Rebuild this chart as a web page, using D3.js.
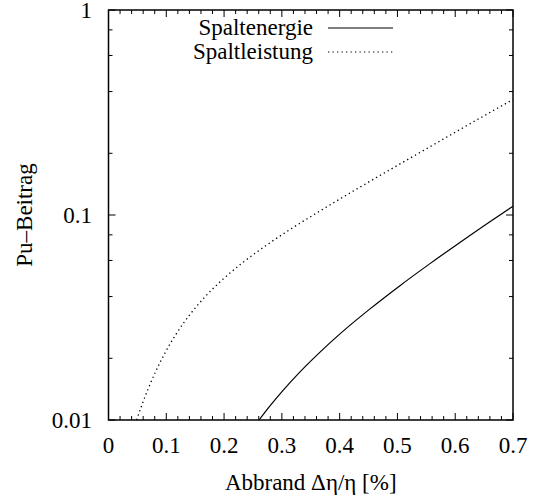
<!DOCTYPE html>
<html>
<head>
<meta charset="utf-8">
<script src="https://cdn.jsdelivr.net/npm/d3@7"></script>
<style>
  body { margin: 0; background: #fff; }
  text { font-family: "Liberation Serif", "Times New Roman", serif; fill: #000; }
</style>
</head>
<body>
<div id="chart"></div>
<script>
// values
var xTicks = [0, 0.1, 0.2, 0.3, 0.4, 0.5, 0.6, 0.7];
var yTicks = [0.01, 0.1, 1];
var yTickLabels = ["0.01", "0.1", "1"];

var energieX = [0.2606, 0.2791, 0.3021, 0.3310, 0.3656, 0.4001, 0.4520, 0.5038, 0.5557, 0.6075, 0.6594, 0.7000];
var energieY = [0.0100, 0.01168, 0.01395, 0.01712, 0.02138, 0.02623, 0.03473, 0.04508, 0.05775, 0.0733, 0.09254, 0.1104];

var leistungX = [0.0487, 0.0579, 0.0683, 0.0804, 0.0977, 0.1184, 0.1409, 0.1668, 0.1962, 0.2307, 0.2705, 0.3137, 0.3656, 0.4347, 0.5038, 0.5730, 0.6421, 0.7000];
var leistungY = [0.0100, 0.01187, 0.01413, 0.01694, 0.02122, 0.02662, 0.03268, 0.03983, 0.04808, 0.05813, 0.07033, 0.08481, 0.1045, 0.1365, 0.1770, 0.2291, 0.2961, 0.3660];

var seriesNames = ["Spaltenergie", "Spaltleistung"];

var W = 534, H = 502;
var mLeft = 108.5, mRight = 513, mTop = 10, mBottom = 420;

var svg = d3.select("#chart").append("svg")
  .attr("width", W)
  .attr("height", H);

var x = d3.scaleLinear().domain([0, 0.7]).range([mLeft, mRight]);
var y = d3.scaleLog().domain([0.01, 1]).range([mBottom, mTop]);

// minor ticks: 0.02 steps on x, 2,4,6,8 per decade on y
var xMinor = d3.range(0, 0.7001, 0.02).filter(function(v){ return Math.abs(v*10 - Math.round(v*10)) > 1e-6; });
var yMinor = [];
[0.01, 0.1].forEach(function(d){ [2,4,6,8].forEach(function(m){ yMinor.push(d*m); }); });

var tickG = svg.append("g").attr("stroke", "#000").attr("stroke-width", 1);
xTicks.forEach(function(v){
  tickG.append("line").attr("x1", x(v)).attr("x2", x(v)).attr("y1", mBottom).attr("y2", mBottom - 7);
  tickG.append("line").attr("x1", x(v)).attr("x2", x(v)).attr("y1", mTop).attr("y2", mTop + 7);
});
xMinor.forEach(function(v){
  tickG.append("line").attr("x1", x(v)).attr("x2", x(v)).attr("y1", mBottom).attr("y2", mBottom - 4);
  tickG.append("line").attr("x1", x(v)).attr("x2", x(v)).attr("y1", mTop).attr("y2", mTop + 4);
});
yTicks.forEach(function(v){
  tickG.append("line").attr("x1", mLeft).attr("x2", mLeft + 7).attr("y1", y(v)).attr("y2", y(v));
  tickG.append("line").attr("x1", mRight).attr("x2", mRight - 7).attr("y1", y(v)).attr("y2", y(v));
});
yMinor.forEach(function(v){
  tickG.append("line").attr("x1", mLeft).attr("x2", mLeft + 4).attr("y1", y(v)).attr("y2", y(v));
  tickG.append("line").attr("x1", mRight).attr("x2", mRight - 4).attr("y1", y(v)).attr("y2", y(v));
});

// frame
svg.append("rect")
  .attr("x", mLeft).attr("y", mTop)
  .attr("width", mRight - mLeft).attr("height", mBottom - mTop)
  .attr("fill", "none").attr("stroke", "#000").attr("stroke-width", 1.5);

// tick labels
svg.selectAll(".xl").data(xTicks).enter().append("text")
  .attr("class", "xl")
  .attr("x", function(d){ return x(d); })
  .attr("y", 453)
  .attr("text-anchor", "middle")
  .attr("font-size", 23)
  .text(function(d){ return d3.format("")(d); });

svg.selectAll(".yl").data(yTicks).enter().append("text")
  .attr("class", "yl")
  .attr("x", 92)
  .attr("y", function(d){ return y(d) + 8; })
  .attr("text-anchor", "end")
  .attr("font-size", 23)
  .text(function(d, i){ return yTickLabels[i]; });

// axis titles
svg.append("text")
  .attr("x", (mLeft + mRight) / 2)
  .attr("y", 490)
  .attr("text-anchor", "middle")
  .attr("font-size", 23)
  .text("Abbrand \u0394\u03b7/\u03b7 [%]");

svg.append("text")
  .attr("transform", "translate(32,215) rotate(-90)")
  .attr("text-anchor", "middle")
  .attr("font-size", 23)
  .text("Pu\u2013Beitrag");

// curves
var line = d3.line()
  .x(function(d){ return x(d[0]); })
  .y(function(d){ return y(d[1]); })
  .curve(d3.curveMonotoneX);

var plot = svg.append("g");
plot.append("path")
  .datum(d3.zip(energieX, energieY))
  .attr("d", line)
  .attr("fill", "none").attr("stroke", "#000").attr("stroke-width", 1.2);

plot.append("path")
  .datum(d3.zip(leistungX, leistungY))
  .attr("d", line)
  .attr("fill", "none").attr("stroke", "#000").attr("stroke-width", 1.3)
  .attr("stroke-dasharray", "1.3,3.2");

// legend
var styles = [null, "1.3,3.2"];
seriesNames.forEach(function(name, i){
  var ly = 28 + i * 24;
  svg.append("text")
    .attr("x", 313).attr("y", ly + 7)
    .attr("text-anchor", "end")
    .attr("font-size", 23)
    .text(name);
  svg.append("line")
    .attr("x1", 328).attr("x2", 393).attr("y1", ly).attr("y2", ly)
    .attr("stroke", "#000").attr("stroke-width", 1.2)
    .attr("stroke-dasharray", styles[i]);
});
</script>
</body>
</html>
